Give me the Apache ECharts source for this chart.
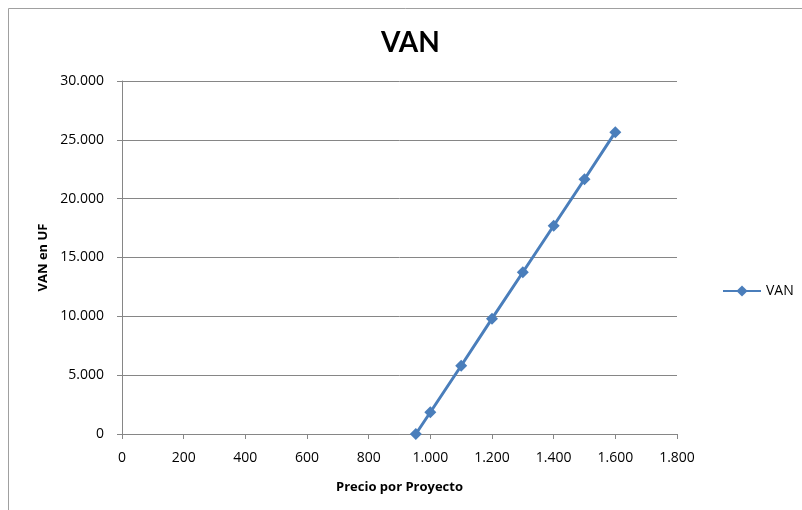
<!DOCTYPE html>
<html>
<head>
<meta charset="utf-8">
<script src="https://cdn.jsdelivr.net/npm/echarts@6/dist/echarts.min.js"></script>
<style>
  html, body { margin: 0; padding: 0; background: #fff; }
  #chart { width: 802px; height: 510px; }
</style>
</head>
<body>
<div id="chart"></div>
<script>
// Precio por proyecto (UF) and the resulting VAN (UF)
const precios = [953, 1000, 1100, 1200, 1300, 1400, 1500, 1600];
const van = [0, 1850, 5800, 9800, 13750, 17700, 21650, 25650];
const seriesName = 'VAN';

const fmt = v => String(v).replace(/\B(?=(\d{3})+(?!\d))/g, '.');
const font = '"Open Sans", Lato, sans-serif';

const chart = echarts.init(document.getElementById('chart'));
chart.setOption({
  animation: false,
  backgroundColor: '#fff',
  textStyle: { fontFamily: font },
  title: {
    text: 'VAN',
    left: 376,
    top: 24,
    textStyle: { fontSize: 28, fontWeight: 'bold', color: '#000', fontFamily: 'Lato, sans-serif' }
  },
  legend: {
    data: [seriesName],
    orient: 'vertical',
    left: 717,
    top: 279,
    itemWidth: 38,
    itemHeight: 14,
    itemGap: 4,
    textStyle: { fontSize: 14, color: '#000', fontFamily: font }
  },
  grid: { left: 122, right: 125, top: 81, bottom: 76 },
  xAxis: {
    type: 'value',
    min: 0, max: 1800, interval: 200,
    name: 'Precio por Proyecto',
    nameLocation: 'middle',
    nameGap: 47,
    nameTextStyle: { fontSize: 13, fontWeight: 'bold', color: '#000' },
    axisLine: { show: true, lineStyle: { color: '#868686' } },
    axisTick: { show: true, length: 5, lineStyle: { color: '#868686' } },
    splitLine: { show: false },
    axisLabel: { fontSize: 14, color: '#000', margin: 17, formatter: fmt }
  },
  yAxis: {
    type: 'value',
    min: 0, max: 30000, interval: 5000,
    name: 'VAN en UF',
    nameLocation: 'middle',
    nameGap: 68,
    nameTextStyle: { fontSize: 13, fontWeight: 'bold', color: '#000' },
    axisLine: { show: true, lineStyle: { color: '#868686' } },
    axisTick: { show: true, length: 5, lineStyle: { color: '#868686' } },
    splitLine: { show: true, lineStyle: { color: '#868686' } },
    axisLabel: { fontSize: 14, color: '#000', margin: 18, formatter: fmt }
  },
  graphic: [{
    type: 'rect',
    shape: { x: 8.5, y: 8.5, width: 820, height: 520 },
    style: { fill: 'none', stroke: '#a0a0a0', lineWidth: 1 },
    silent: true
  }],
  series: [{
    name: seriesName,
    type: 'line',
    data: precios.map((p, i) => [p, van[i]]),
    symbol: 'diamond',
    symbolSize: 12,
    lineStyle: { color: '#4a7ebb', width: 3 },
    itemStyle: { color: '#4a7ebb' }
  }]
});
</script>
</body>
</html>
